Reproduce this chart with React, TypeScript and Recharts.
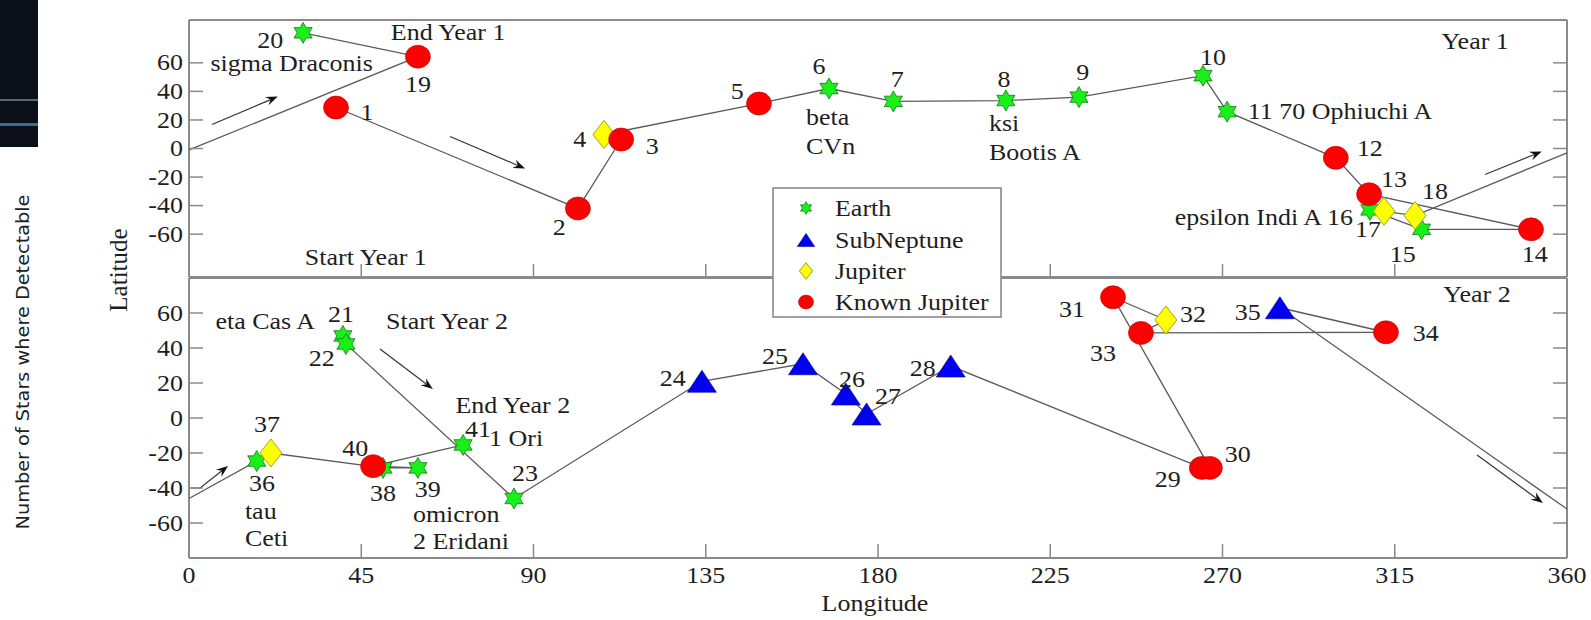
import React from 'react';
import { ScatterChart, Scatter, XAxis, YAxis, Legend, Label } from 'recharts';

const FONT = '"Liberation Serif", "Times New Roman", serif';
const FS = 23;
const SX = 1.13;
const BORDER = '#8a8a8a';
const LINE = '#5a5a5a';
const TXT = '#1e1e1e';

const xTicks = [0, 45, 90, 135, 180, 225, 270, 315, 360];
const yTicks = [-60, -40, -20, 0, 20, 40, 60];
const legendOrder = ['Earth', 'SubNeptune', 'Jupiter', 'Known Jupiter'];

type Kind = 'E' | 'S' | 'J' | 'K';
type Pt = { n: number; lon: number; lat: number; kind: Kind };
type Lbl = { lon: number; lat: number; txt: string; anc?: string };
type LL = { lon: number; lat: number };

const year1Points: Pt[] = [
  { n: 1, lon: 38.4, lat: 28.7, kind: 'K' },
  { n: 2, lon: 101.6, lat: -42, kind: 'K' },
  { n: 3, lon: 112.9, lat: 6.3, kind: 'K' },
  { n: 4, lon: 108.4, lat: 9.8, kind: 'J' },
  { n: 5, lon: 148.9, lat: 31.5, kind: 'K' },
  { n: 6, lon: 167.2, lat: 42, kind: 'E' },
  { n: 7, lon: 184, lat: 33, kind: 'E' },
  { n: 8, lon: 213.4, lat: 33.6, kind: 'E' },
  { n: 9, lon: 232.5, lat: 36, kind: 'E' },
  { n: 10, lon: 264.9, lat: 51, kind: 'E' },
  { n: 11, lon: 271.2, lat: 25.8, kind: 'E' },
  { n: 12, lon: 299.6, lat: -6.5, kind: 'K' },
  { n: 13, lon: 308.3, lat: -32, kind: 'K' },
  { n: 14, lon: 350.6, lat: -56.6, kind: 'K' },
  { n: 15, lon: 322, lat: -56.6, kind: 'E' },
  { n: 16, lon: 308.5, lat: -43, kind: 'E' },
  { n: 17, lon: 312.2, lat: -44, kind: 'J' },
  { n: 18, lon: 320.3, lat: -47, kind: 'J' },
  { n: 19, lon: 59.8, lat: 64.3, kind: 'K' },
  { n: 20, lon: 29.8, lat: 81, kind: 'E' },
];
const year1WrapAfter = 18;
const year1EdgeOut: LL = { lon: 360, lat: -3 };
const year1EdgeIn: LL = { lon: 0, lat: -1 };

const year2Points: Pt[] = [
  { n: 21, lon: 40.2, lat: 46.9, kind: 'E' },
  { n: 22, lon: 41, lat: 42.3, kind: 'E' },
  { n: 23, lon: 84.9, lat: -46, kind: 'E' },
  { n: 24, lon: 134, lat: 21, kind: 'S' },
  { n: 25, lon: 160.4, lat: 31, kind: 'S' },
  { n: 26, lon: 171.6, lat: 13.7, kind: 'S' },
  { n: 27, lon: 177, lat: 2.3, kind: 'S' },
  { n: 28, lon: 199, lat: 29.7, kind: 'S' },
  { n: 29, lon: 264.6, lat: -28.5, kind: 'K' },
  { n: 30, lon: 266.7, lat: -28.5, kind: 'K' },
  { n: 31, lon: 241.4, lat: 69, kind: 'K' },
  { n: 32, lon: 255.2, lat: 56, kind: 'J' },
  { n: 33, lon: 248.7, lat: 48.6, kind: 'K' },
  { n: 34, lon: 312.7, lat: 49, kind: 'K' },
  { n: 35, lon: 285, lat: 63, kind: 'S' },
  { n: 36, lon: 17.7, lat: -24.6, kind: 'E' },
  { n: 37, lon: 21.4, lat: -20, kind: 'J' },
  { n: 38, lon: 50.7, lat: -28.5, kind: 'E' },
  { n: 39, lon: 59.8, lat: -28.5, kind: 'E' },
  { n: 40, lon: 48.1, lat: -27.5, kind: 'K' },
  { n: 41, lon: 71.6, lat: -15.4, kind: 'E' },
];
const year2WrapAfter = 35;
const year2EdgeOut: LL = { lon: 360, lat: -52 };
const year2EdgeIn: LL = { lon: 0, lat: -46 };

const year1Labels: Lbl[] = [
  { lon: 21.2, lat: 75.6, txt: '20' },
  { lon: 67.7, lat: 81.1, txt: 'End Year 1' },
  { lon: 26.8, lat: 59.4, txt: 'sigma Draconis' },
  { lon: 59.8, lat: 44.8, txt: '19' },
  { lon: 46.5, lat: 25.2, txt: '1' },
  { lon: 96.7, lat: -55.2, txt: '2' },
  { lon: 102.1, lat: 6.3, txt: '4' },
  { lon: 121, lat: 1.4, txt: '3' },
  { lon: 143.2, lat: 39.9, txt: '5' },
  { lon: 164.6, lat: 57.3, txt: '6' },
  { lon: 161.2, lat: 21.7, txt: 'beta', anc: 'start' },
  { lon: 161.2, lat: 1.4, txt: 'CVn', anc: 'start' },
  { lon: 185, lat: 48.3, txt: '7' },
  { lon: 212.9, lat: 48.3, txt: '8' },
  { lon: 209, lat: 17.5, txt: 'ksi', anc: 'start' },
  { lon: 209, lat: -2.8, txt: 'Bootis A', anc: 'start' },
  { lon: 233.5, lat: 53.1, txt: '9' },
  { lon: 267.5, lat: 63.6, txt: '10' },
  { lon: 276.6, lat: 25.9, txt: '11 70 Ophiuchi A', anc: 'start' },
  { lon: 308.5, lat: 0, txt: '12' },
  { lon: 314.8, lat: -21.7, txt: '13' },
  { lon: 325.5, lat: -30, txt: '18' },
  { lon: 304.1, lat: -48.3, txt: 'epsilon Indi A 16', anc: 'end' },
  { lon: 308, lat: -56.6, txt: '17' },
  { lon: 317.1, lat: -74.1, txt: '15' },
  { lon: 351.6, lat: -74.1, txt: '14' },
  { lon: 336, lat: 74.8, txt: 'Year 1' },
  { lon: 46.2, lat: -76.2, txt: 'Start Year 1' },
];

const year2Labels: Lbl[] = [
  { lon: 19.9, lat: 55.4, txt: 'eta Cas A' },
  { lon: 39.7, lat: 59.4, txt: '21' },
  { lon: 34.7, lat: 34.3, txt: '22' },
  { lon: 67.4, lat: 55.4, txt: 'Start Year 2' },
  { lon: 20.4, lat: -3.4, txt: '37' },
  { lon: 19.1, lat: -37.1, txt: '36' },
  { lon: 14.6, lat: -53.1, txt: 'tau', anc: 'start' },
  { lon: 14.6, lat: -68.6, txt: 'Ceti', anc: 'start' },
  { lon: 43.4, lat: -17.1, txt: '40' },
  { lon: 50.7, lat: -42.9, txt: '38' },
  { lon: 62.4, lat: -40.6, txt: '39' },
  { lon: 58.5, lat: -54.9, txt: 'omicron', anc: 'start' },
  { lon: 58.5, lat: -70.3, txt: '2 Eridani', anc: 'start' },
  { lon: 84.6, lat: 7, txt: 'End Year 2' },
  { lon: 75.5, lat: -6.4, txt: '41' },
  { lon: 78.4, lat: -11.8, txt: '1 Ori', anc: 'start' },
  { lon: 87.8, lat: -31.4, txt: '23' },
  { lon: 126.4, lat: 22.9, txt: '24' },
  { lon: 153.1, lat: 35.4, txt: '25' },
  { lon: 173.2, lat: 22.3, txt: '26' },
  { lon: 182.6, lat: 12.6, txt: '27' },
  { lon: 191.7, lat: 28.6, txt: '28' },
  { lon: 230.7, lat: 62.3, txt: '31' },
  { lon: 262.3, lat: 59.4, txt: '32' },
  { lon: 238.8, lat: 37.1, txt: '33' },
  { lon: 255.7, lat: -34.9, txt: '29' },
  { lon: 274, lat: -20.6, txt: '30' },
  { lon: 276.6, lat: 60.6, txt: '35' },
  { lon: 323.1, lat: 48.6, txt: '34' },
  { lon: 336.5, lat: 70.9, txt: 'Year 2' },
];

const year1Arrows: LL[][] = [
  [{ lon: 6, lat: 16.8 }, { lon: 23.2, lat: 36.4 }],
  [{ lon: 68.2, lat: 8.4 }, { lon: 87.8, lat: -14 }],
  [{ lon: 338.6, lat: -18.2 }, { lon: 353.4, lat: -2.1 }],
];
const year2Arrows: LL[][] = [
  [{ lon: 0.4, lat: -40 }, { lon: 2.9, lat: -40 }, { lon: 10.2, lat: -27.4 }],
  [{ lon: 49.9, lat: 39.4 }, { lon: 63.7, lat: 16.6 }],
  [{ lon: 336.5, lat: -21.1 }, { lon: 353.7, lat: -48.6 }],
];

function buildPath(points: Pt[], wrapAfter: number, out: LL, inn: LL): LL[][] {
  const i = points.findIndex((p) => p.n === wrapAfter);
  return [[...points.slice(0, i + 1), out], [inn, ...points.slice(i + 1)]];
}

const SText = ({ x, y, text, anchor = 'middle', size = FS }: any) => (
  <g transform={`translate(${x},${y}) scale(${SX},1)`}>
    <text x={0} y={0} dy="0.33em" textAnchor={anchor} fontFamily={FONT} fontSize={size} fill={TXT}>
      {text}
    </text>
  </g>
);

function drawStar(cx: number, cy: number, s = 1) {
  const pts: string[] = [];
  for (let i = 0; i < 12; i++) {
    const r = (i % 2 === 0 ? 10.5 : 6) * s;
    const a = -Math.PI / 2 + (i * Math.PI) / 6;
    pts.push(`${cx + r * Math.cos(a)},${cy + r * Math.sin(a)}`);
  }
  return <polygon points={pts.join(' ')} fill="#19f019" stroke="#117a11" strokeWidth={0.8} />;
}
function drawTri(cx: number, cy: number, s = 1) {
  return (
    <polygon
      points={`${cx},${cy - 11 * s} ${cx + 14.5 * s},${cy + 11 * s} ${cx - 14.5 * s},${cy + 11 * s}`}
      fill="#0000f0"
      stroke="#00008a"
      strokeWidth={0.6}
    />
  );
}
function drawDiamond(cx: number, cy: number, s = 1) {
  return (
    <polygon
      points={`${cx},${cy - 14 * s} ${cx + 11 * s},${cy} ${cx},${cy + 14 * s} ${cx - 11 * s},${cy}`}
      fill="#ffff00"
      stroke="#9a9a10"
      strokeWidth={0.9}
    />
  );
}
function drawCircle(cx: number, cy: number, s = 1) {
  return <ellipse cx={cx} cy={cy} rx={12.5 * s} ry={11.5 * s} fill="#ff0000" stroke="#c00000" strokeWidth={0.6} />;
}
const drawers: Record<string, (cx: number, cy: number, s?: number) => React.ReactElement> = {
  Earth: drawStar,
  SubNeptune: drawTri,
  Jupiter: drawDiamond,
  'Known Jupiter': drawCircle,
};

const emptyShape = () => <g />;
const labelShape = (p: any) => {
  const d = p.payload || p;
  return <SText x={p.cx} y={p.cy} text={d.txt} anchor={d.anc || 'middle'} />;
};
const pathLine = (p: any) => {
  const pts = p.points || [];
  const dstr = pts.map((q: any, i: number) => `${i ? 'L' : 'M'}${q.x},${q.y}`).join(' ');
  return <path d={dstr} fill="none" stroke={LINE} strokeWidth={1.3} />;
};
const arrowLine = (p: any) => {
  const pts = p.points || [];
  if (pts.length < 2) return <g />;
  const a = pts[pts.length - 2];
  const b = pts[pts.length - 1];
  const dx = b.x - a.x;
  const dy = b.y - a.y;
  const len = Math.hypot(dx, dy) || 1;
  const ux = dx / len;
  const uy = dy / len;
  const hl = 12;
  const hw = 4.5;
  const bx = b.x - ux * hl;
  const by = b.y - uy * hl;
  const nx = b.x - ux * hl * 0.65;
  const ny = b.y - uy * hl * 0.65;
  const shaft = [...pts.slice(0, -1), { x: nx, y: ny }];
  const d = shaft.map((q: any, i: number) => `${i ? 'L' : 'M'}${q.x},${q.y}`).join(' ');
  return (
    <g>
      <path d={d} fill="none" stroke="#333" strokeWidth={1.2} />
      <polygon
        points={`${b.x},${b.y} ${bx - uy * hw},${by + ux * hw} ${nx},${ny} ${bx + uy * hw},${by - ux * hw}`}
        fill="#111"
      />
    </g>
  );
};

const LeftTick = (p: any) => (
  <g>
    <line x1={p.x} y1={p.y} x2={p.x + 14} y2={p.y} stroke={BORDER} strokeWidth={1.5} />
    <SText x={p.x - 6} y={p.y} text={String(p.payload.value)} anchor="end" />
  </g>
);
const RightMark = (p: any) => <line x1={p.x} y1={p.y} x2={p.x - 14} y2={p.y} stroke={BORDER} strokeWidth={1.5} />;
const TopMark = (p: any) => <line x1={p.x} y1={p.y} x2={p.x} y2={p.y + 12} stroke={BORDER} strokeWidth={1.5} />;
const BottomMark = (p: any) => <line x1={p.x} y1={p.y} x2={p.x} y2={p.y - 13} stroke={BORDER} strokeWidth={1.5} />;
const BottomTick = (p: any) => (
  <g>
    <line x1={p.x} y1={p.y} x2={p.x} y2={p.y - 14} stroke={BORDER} strokeWidth={1.5} />
    <SText x={p.x} y={p.y + 17} text={String(p.payload.value)} />
  </g>
);
const LongitudeLabel = (p: any) => {
  const vb = p.viewBox || { x: 0, y: 0, width: 0 };
  return <SText x={vb.x + vb.width / 2 - 3} y={vb.y + 45} text="Longitude" />;
};

const LegendBox = (props: any) => {
  const items = (props.payload || [])
    .filter((it: any) => legendOrder.indexOf(it.value) >= 0)
    .sort((a: any, b: any) => legendOrder.indexOf(a.value) - legendOrder.indexOf(b.value));
  const rows = [21, 53, 84, 115];
  return (
    <svg width={231} height={132} style={{ display: 'block' }}>
      <rect x={1} y={1} width={228} height={129} fill="#ffffff" stroke={BORDER} strokeWidth={1.6} />
      {items.map((it: any, i: number) => (
        <g key={it.value}>
          {drawers[it.value](34, rows[i], 0.6)}
          <SText x={63} y={rows[i]} text={it.value} anchor="start" />
        </g>
      ))}
    </svg>
  );
};

const axisLineStyle = { stroke: BORDER, strokeWidth: 2 };

function Panel({
  points,
  paths,
  labels,
  arrows,
  domain,
  height,
  topH,
  bottomH,
  bottomTick,
  withLegend,
  longLabel,
}: any) {
  const kinds: { k: Kind; name: string }[] = [
    { k: 'E', name: 'Earth' },
    { k: 'S', name: 'SubNeptune' },
    { k: 'J', name: 'Jupiter' },
    { k: 'K', name: 'Known Jupiter' },
  ];
  return (
    <ScatterChart width={1591} height={height} margin={{ top: 0, right: 0, bottom: 0, left: 0 }}>
      <XAxis
        xAxisId="b"
        type="number"
        dataKey="lon"
        domain={[0, 360]}
        ticks={xTicks}
        interval={0}
        orientation="bottom"
        height={bottomH}
        axisLine={axisLineStyle}
        tickLine={false}
        tickSize={0}
        tickMargin={0}
        tick={bottomTick}
      >
        {longLabel ? <Label content={LongitudeLabel} /> : null}
      </XAxis>
      <XAxis
        xAxisId="t"
        type="number"
        domain={[0, 360]}
        ticks={xTicks}
        interval={0}
        allowDataOverflow
        orientation="top"
        height={topH}
        axisLine={axisLineStyle}
        tickLine={false}
        tickSize={0}
        tickMargin={0}
        tick={TopMark}
      />
      <YAxis
        yAxisId="l"
        type="number"
        dataKey="lat"
        domain={domain}
        ticks={yTicks}
        interval={0}
        width={189}
        axisLine={axisLineStyle}
        tickLine={false}
        tickSize={0}
        tickMargin={0}
        tick={LeftTick}
      />
      <YAxis
        yAxisId="r"
        type="number"
        orientation="right"
        domain={domain}
        ticks={yTicks}
        interval={0}
        allowDataOverflow
        width={24}
        axisLine={axisLineStyle}
        tickLine={false}
        tickSize={0}
        tickMargin={0}
        tick={RightMark}
      />
      {paths.map((seg: LL[], i: number) => (
        <Scatter
          key={`path${i}`}
          xAxisId="b"
          yAxisId="l"
          data={seg}
          line={pathLine}
          lineType="joint"
          shape={emptyShape}
          legendType="none"
          isAnimationActive={false}
        />
      ))}
      {arrows.map((seg: LL[], i: number) => (
        <Scatter
          key={`arrow${i}`}
          xAxisId="b"
          yAxisId="l"
          data={seg}
          line={arrowLine}
          lineType="joint"
          shape={emptyShape}
          legendType="none"
          isAnimationActive={false}
        />
      ))}
      {kinds.map(({ k, name }) => (
        <Scatter
          key={name}
          name={name}
          xAxisId="b"
          yAxisId="l"
          data={points.filter((p: Pt) => p.kind === k)}
          shape={(p: any) => drawers[name](p.cx, p.cy, 1)}
          fill={k === 'E' ? '#19f019' : k === 'S' ? '#0000f0' : k === 'J' ? '#ffff00' : '#ff0000'}
          isAnimationActive={false}
        />
      ))}
      <Scatter
        xAxisId="b"
        yAxisId="l"
        data={labels}
        shape={labelShape}
        legendType="none"
        isAnimationActive={false}
      />
      {withLegend ? (
        <Legend
          layout="vertical"
          align="center"
          verticalAlign="middle"
          content={LegendBox}
          wrapperStyle={{ position: 'absolute', left: 772, top: 187 - 270, width: 231, height: 132 }}
        />
      ) : null}
    </ScatterChart>
  );
}

export default function App() {
  const year1Paths = buildPath(year1Points, year1WrapAfter, year1EdgeOut, year1EdgeIn);
  const year2Paths = buildPath(year2Points, year2WrapAfter, year2EdgeOut, year2EdgeIn);
  return (
    <div style={{ position: 'absolute', left: 0, top: 0, width: 1591, height: 620, background: '#fff', overflow: 'hidden' }}>
      <svg width={1591} height={620} style={{ position: 'absolute', left: 0, top: 0 }}>
        <rect x={0} y={0} width={38} height={147} fill="#0a0f18" />
        <rect x={0} y={99} width={38} height={2} fill="#55687a" />
        <rect x={0} y={123} width={38} height={3} fill="#3a6f92" />
        <text
          transform="translate(29,362) rotate(-90)"
          textAnchor="middle"
          fontFamily='"DejaVu Sans", sans-serif'
          fontSize={17}
          fill="#222"
          textLength={335}
          lengthAdjust="spacingAndGlyphs"
        >
          Number of Stars where Detectable
        </text>
        <text
          transform="translate(127,270) rotate(-90)"
          textAnchor="middle"
          fontFamily={FONT}
          fontSize={25}
          fill={TXT}
        >
          Latitude
        </text>
      </svg>
      <div style={{ position: 'absolute', left: 0, top: 0 }}>
        <Panel
          points={year1Points}
          paths={year1Paths}
          labels={year1Labels}
          arrows={year1Arrows}
          domain={[-90, 90]}
          height={278}
          topH={20}
          bottomH={1}
          bottomTick={BottomMark}
          withLegend={false}
          longLabel={false}
        />
      </div>
      <div style={{ position: 'absolute', left: 0, top: 270 }}>
        <Panel
          points={year2Points}
          paths={year2Paths}
          labels={year2Labels}
          arrows={year2Arrows}
          domain={[-80, 80]}
          height={350}
          topH={8}
          bottomH={62}
          bottomTick={BottomTick}
          withLegend={true}
          longLabel={true}
        />
      </div>
    </div>
  );
}
